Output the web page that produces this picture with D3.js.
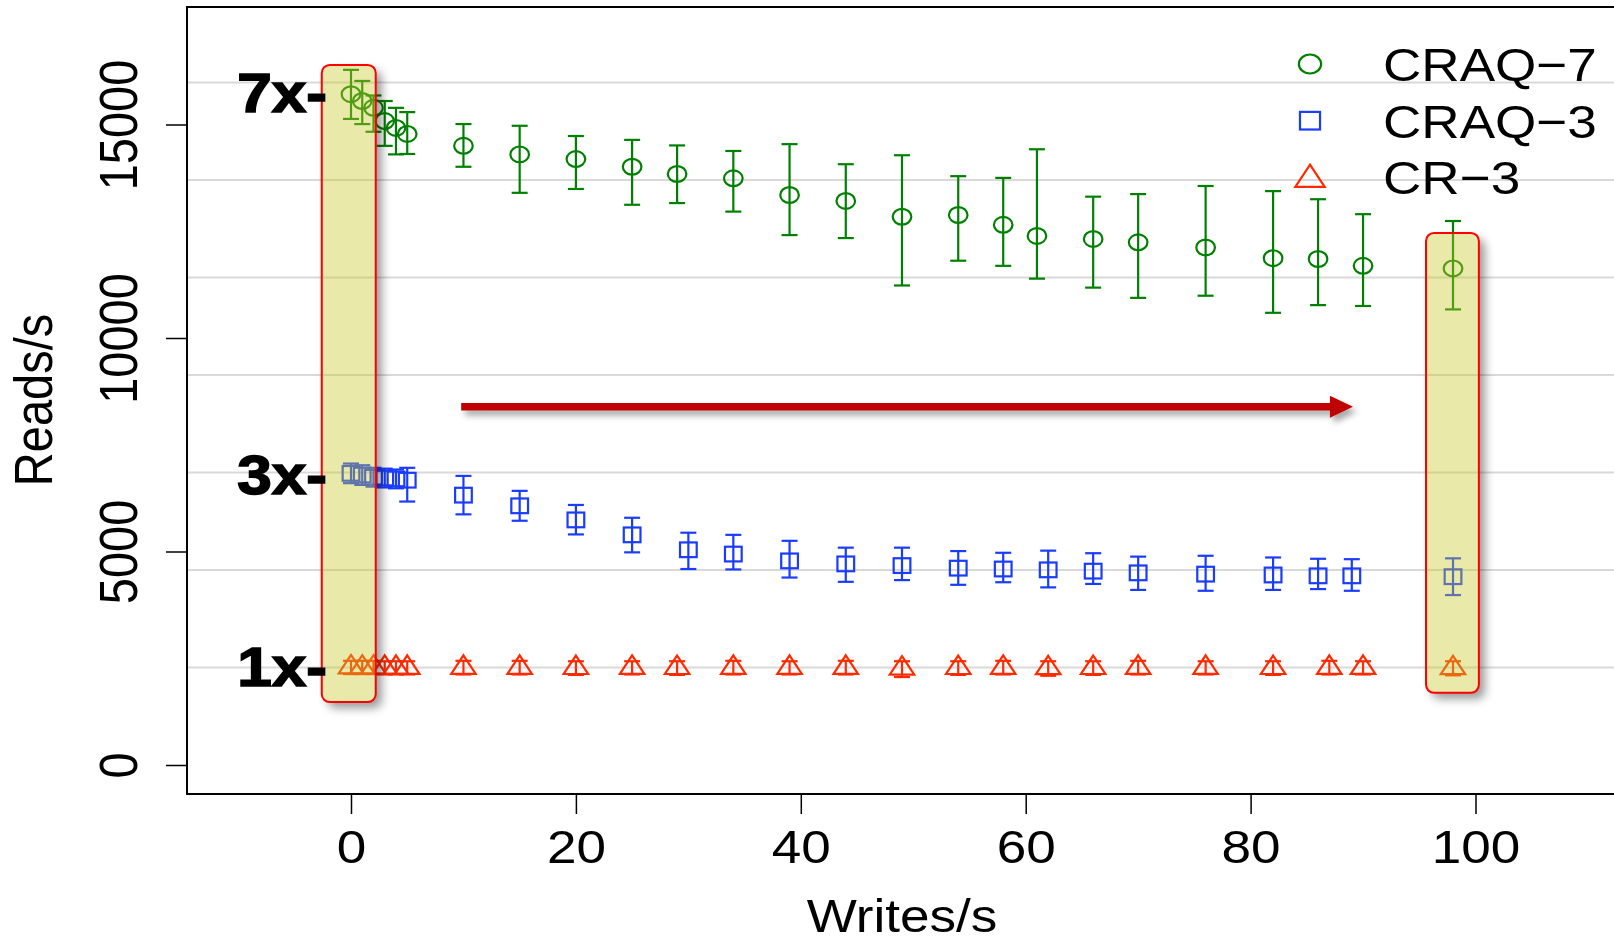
<!DOCTYPE html>
<html>
<head>
<meta charset="utf-8">
<script src="https://cdn.jsdelivr.net/npm/d3@7"></script>
<style>
  body { margin: 0; background: #fff; }
  svg { display: block; font-family: "Liberation Sans", Arial, Helvetica, sans-serif; }
</style>
</head>
<body>
<div id="container"></div>
<script>
/* DATA */
const seriesNames = ["CRAQ\u22127", "CRAQ\u22123", "CR\u22123"];

const craq7X    = [0, 1, 2, 3, 4, 5, 10, 15, 20, 25, 29, 34, 39, 44, 49, 54, 58, 61, 66, 70, 76, 82, 86, 90, 98];
const craq7Mean = [15710, 15550, 15390, 15080, 14920, 14780, 14500, 14300, 14190, 14010, 13840, 13740, 13350, 13210, 12840, 12880, 12650, 12390, 12320, 12240, 12120, 11870, 11850, 11690, 11630];
const craq7Hi   = [16280, 16020, 15680, 15550, 15390, 15290, 15010, 14970, 14730, 14640, 14510, 14380, 14540, 14070, 14280, 13790, 13750, 14420, 13310, 13370, 13560, 13440, 13250, 12900, 12740];
const craq7Lo   = [15130, 15010, 14830, 14500, 14300, 14310, 14010, 13400, 13490, 13120, 13160, 12960, 12410, 12340, 11230, 11810, 11690, 11390, 11180, 10940, 10990, 10590, 10770, 10750, 10670];

const craq3X    = [0, 1, 2, 3, 4, 5, 10, 15, 20, 25, 30, 34, 39, 44, 49, 54, 58, 62, 66, 70, 76, 82, 86, 89, 98];
const craq3Mean = [6830, 6790, 6740, 6720, 6700, 6670, 6320, 6070, 5740, 5390, 5040, 4940, 4780, 4710, 4670, 4610, 4590, 4570, 4540, 4500, 4470, 4450, 4430, 4430, 4410];
const craq3Hi   = [7060, 7020, 6960, 6940, 6920, 6960, 6770, 6420, 6090, 5790, 5440, 5390, 5250, 5090, 5090, 5010, 4970, 5020, 4960, 4880, 4900, 4860, 4830, 4820, 4840];
const craq3Lo   = [6600, 6560, 6520, 6500, 6480, 6170, 5870, 5720, 5400, 4980, 4590, 4580, 4390, 4290, 4330, 4220, 4280, 4160, 4240, 4100, 4080, 4100, 4120, 4080, 3980];

const cr3X    = [0, 1, 2, 3, 4, 5, 10, 15, 20, 25, 29, 34, 39, 44, 49, 54, 58, 62, 66, 70, 76, 82, 87, 90, 98];
const cr3Mean = [2290, 2285, 2285, 2280, 2280, 2280, 2280, 2280, 2275, 2280, 2275, 2280, 2280, 2280, 2260, 2275, 2280, 2270, 2275, 2280, 2280, 2275, 2280, 2280, 2270];
const cr3Hi   = [2440, 2440, 2440, 2430, 2430, 2430, 2440, 2440, 2430, 2430, 2430, 2440, 2430, 2440, 2430, 2430, 2440, 2430, 2430, 2440, 2430, 2430, 2440, 2430, 2430];
const cr3Lo   = [2130, 2130, 2130, 2120, 2120, 2120, 2120, 2120, 2110, 2120, 2110, 2120, 2120, 2120, 2060, 2110, 2120, 2090, 2110, 2120, 2120, 2110, 2120, 2120, 2100];

const xTicks = [0, 20, 40, 60, 80, 100];
const yTicks = [0, 5000, 10000, 15000];

// gridlines sit at multiples of the CR-3 read rate
const baseRate = 2283;
const gridMultiples = [1, 2, 3, 4, 5, 6, 7];
const markLabels = ["7x-", "3x-", "1x-"];
const markValues = [15740, 6780, 2290];

// highlighted windows (x range in writes/s, y range in reads/s)
const highlightX = [[-2.6, 2.2], [95.6, 100.3]];
const highlightY = [[1475, 16395], [1690, 12460]];

// arrow
const arrowX = [9.8, 89.1];
const arrowY = 8390;

/* LAYOUT */
const width = 1614, height = 943;
const frame = { left: 187, top: 7, bottom: 794 };
const sx = 1.13; // the figure is slightly stretched sideways
const colors = ["#008000", "#1a3cff", "#ff2a00"];

const x = d3.scaleLinear().domain([0, 100]).range([351, 1475.5]);
const y = d3.scaleLinear().domain([0, 15000]).range([765, 124.5]);

const svg = d3.select("#container")
  .append("svg")
  .attr("width", width)
  .attr("height", height);

const defs = svg.append("defs");

// shadow only outside the shape
const sf = defs.append("filter").attr("id", "outerShadow")
  .attr("x", "-50%").attr("y", "-20%").attr("width", "250%").attr("height", "150%");
sf.append("feGaussianBlur").attr("in", "SourceAlpha").attr("stdDeviation", 5).attr("result", "blur");
sf.append("feOffset").attr("in", "blur").attr("dx", 6).attr("dy", 6).attr("result", "off");
sf.append("feComposite").attr("in", "off").attr("in2", "SourceAlpha").attr("operator", "out").attr("result", "sh");
sf.append("feFlood").attr("flood-color", "#000").attr("flood-opacity", 0.4);
sf.append("feComposite").attr("in2", "sh").attr("operator", "in");

const af = defs.append("filter").attr("id", "arrowShadow")
  .attr("x", "-10%").attr("y", "-100%").attr("width", "120%").attr("height", "300%");
af.append("feDropShadow").attr("dx", 4).attr("dy", 5).attr("stdDeviation", 3)
  .attr("flood-color", "#000").attr("flood-opacity", 0.35);

// GRIDLINES
svg.append("g")
  .selectAll("line")
  .data(gridMultiples)
  .join("line")
  .attr("x1", frame.left).attr("x2", width)
  .attr("y1", d => y(d * baseRate)).attr("y2", d => y(d * baseRate))
  .attr("stroke", "#d9d9d9")
  .attr("stroke-width", 2);

// FRAME
svg.append("path")
  .attr("d", `M${width},${frame.top}H${frame.left}V${frame.bottom}H${width}`)
  .attr("fill", "none")
  .attr("stroke", "#000")
  .attr("stroke-width", 2);

// AXES
const xAxis = svg.append("g")
  .attr("transform", `translate(0,${frame.bottom})`)
  .call(d3.axisBottom(x).tickValues(xTicks).tickSizeInner(20).tickSizeOuter(0));
xAxis.select(".domain").remove();
xAxis.selectAll("line").attr("stroke", "#000").attr("stroke-width", 1.5);
xAxis.selectAll("text")
  .attr("y", null).attr("dy", null)
  .attr("transform", `translate(0,69) scale(${sx},1)`)
  .attr("font-size", 47)
  .attr("font-family", "Liberation Sans, Arial, sans-serif")
  .attr("fill", "#000");

const yAxis = svg.append("g")
  .attr("transform", `translate(${frame.left},0)`)
  .call(d3.axisLeft(y).tickValues(yTicks).tickSizeInner(21).tickSizeOuter(0).tickFormat(d3.format("d")));
yAxis.select(".domain").remove();
yAxis.selectAll("line").attr("stroke", "#000").attr("stroke-width", 1.5);
yAxis.selectAll("text")
  .attr("x", null).attr("dy", null)
  .attr("text-anchor", "middle")
  .attr("transform", `translate(-50,0) scale(${sx},1) rotate(-90)`)
  .attr("font-size", 47)
  .attr("font-family", "Liberation Sans, Arial, sans-serif")
  .attr("fill", "#000");

// AXIS TITLES
svg.append("text")
  .attr("transform", `translate(902,932) scale(${sx},1)`)
  .attr("text-anchor", "middle")
  .attr("font-size", 47)
  .text("Writes/s");

svg.append("text")
  .attr("transform", `translate(52,400) scale(${sx},1) rotate(-90)`)
  .attr("text-anchor", "middle")
  .attr("font-size", 47)
  .text("Reads/s");

/* MARKERS */
function marker(sel, shape, k) {
  if (shape === "circle") {
    sel.append("ellipse").attr("rx", 9.3 * k).attr("ry", 7.9 * k);
  } else if (shape === "square") {
    sel.append("rect")
      .attr("x", -8.35 * k).attr("y", -7.35 * k)
      .attr("width", 16.7 * k).attr("height", 14.7 * k);
  } else {
    const r = 7.9 * k;
    sel.append("path")
      .attr("d", `M0,${-1.555 * r}L${1.347 * r * 1.15},${0.778 * r}L${-1.347 * r * 1.15},${0.778 * r}Z`);
  }
}

const series = [
  { x: craq7X, mean: craq7Mean, lo: craq7Lo, hi: craq7Hi, shape: "circle" },
  { x: craq3X, mean: craq3Mean, lo: craq3Lo, hi: craq3Hi, shape: "square" },
  { x: cr3X,   mean: cr3Mean,   lo: cr3Lo,   hi: cr3Hi,   shape: "triangle" }
];

series.forEach((s, i) => {
  const pts = s.x.map((xv, j) => ({ x: xv, mean: s.mean[j], lo: s.lo[j], hi: s.hi[j] }));
  const g = svg.append("g")
    .attr("stroke", colors[i])
    .attr("stroke-width", 2.2)
    .attr("fill", "none");

  const bars = g.selectAll("g.bar")
    .data(pts)
    .join("g")
    .attr("class", "bar");
  bars.append("line")
    .attr("x1", d => x(d.x)).attr("x2", d => x(d.x))
    .attr("y1", d => y(d.hi)).attr("y2", d => y(d.lo));
  bars.append("line")
    .attr("x1", d => x(d.x) - 8).attr("x2", d => x(d.x) + 8)
    .attr("y1", d => y(d.hi)).attr("y2", d => y(d.hi));
  bars.append("line")
    .attr("x1", d => x(d.x) - 8).attr("x2", d => x(d.x) + 8)
    .attr("y1", d => y(d.lo)).attr("y2", d => y(d.lo));

  g.selectAll("g.pt")
    .data(pts)
    .join("g")
    .attr("class", "pt")
    .attr("transform", d => `translate(${x(d.x)},${y(d.mean)})`)
    .each(function () { marker(d3.select(this), s.shape, 1); });
});

/* LEGEND */
const legend = svg.append("g");
seriesNames.forEach((name, i) => {
  const cy = 64 + i * 56.7;
  const m = legend.append("g")
    .attr("transform", `translate(1310,${cy + (i === 2 ? 2 : 0)})`)
    .attr("stroke", colors[i]).attr("stroke-width", 2.2).attr("fill", "none");
  marker(m, series[i].shape, 1.2);
  legend.append("text")
    .attr("transform", `translate(1383,${cy + 17}) scale(${sx},1)`)
    .attr("font-size", 47)
    .attr("fill", "#000")
    .text(name);
});

/* HIGHLIGHT BOXES */
highlightX.forEach((hx, i) => {
  const bx = x(hx[0]), bw = x(hx[1]) - x(hx[0]);
  const by = y(highlightY[i][1]), bh = y(highlightY[i][0]) - y(highlightY[i][1]);
  svg.append("rect")
    .attr("x", bx).attr("y", by).attr("width", bw).attr("height", bh)
    .attr("rx", 8).attr("fill", "#000")
    .attr("filter", "url(#outerShadow)");
  svg.append("rect")
    .attr("x", bx).attr("y", by).attr("width", bw).attr("height", bh)
    .attr("rx", 8)
    .attr("fill", "rgb(200,200,42)").attr("fill-opacity", 0.4)
    .attr("stroke", "#ff0000").attr("stroke-width", 2);
});

/* ARROW */
const ax0 = x(arrowX[0]), ax1 = x(arrowX[1]), ay = y(arrowY);
svg.append("path")
  .attr("d", `M${ax0},${ay - 3.8}H${ax1 - 23}V${ay - 11}L${ax1},${ay}L${ax1 - 23},${ay + 11}V${ay + 3.8}H${ax0}Z`)
  .attr("fill", "#c00000")
  .attr("filter", "url(#arrowShadow)");

/* MULTIPLE MARKS */
svg.append("g")
  .selectAll("text")
  .data(markLabels)
  .join("text")
  .attr("transform", (d, i) => `translate(327,${y(markValues[i]) + 19}) scale(${sx},1)`)
  .attr("text-anchor", "end")
  .attr("font-size", 55)
  .attr("font-weight", "bold")
  .attr("fill", "#000")
  .attr("stroke", "#000")
  .attr("stroke-width", 1.6)
  .text(d => d);
</script>
</body>
</html>
